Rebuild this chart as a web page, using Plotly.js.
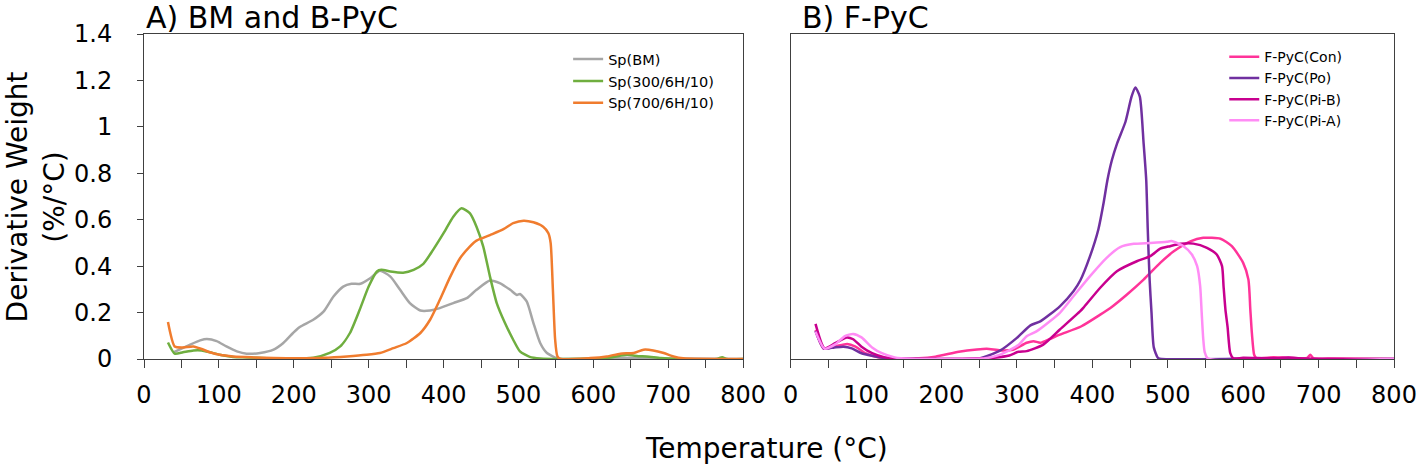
<!DOCTYPE html>
<html>
<head>
<meta charset="utf-8">
<script src="https://cdn.plot.ly/plotly-3.0.1.min.js"></script>
<style>html,body{margin:0;padding:0;background:#fff;}#chart{width:1418px;height:471px;}</style>
</head>
<body>
<div id="chart"></div>
<script>
// ---------- Panel A: BM and B-PyC ----------
const bmT = [40,50,61,75,84,97,110,124,137,155,173,186,199,208,226,240,253,266,277,289,302,315,329,342,355,369,382,395,413,431,444,462,475,489,498,502,511,520,529,538,551,560,600,650,700,800];
const bmY = [0.03,0.045,0.061,0.08,0.086,0.077,0.054,0.033,0.023,0.026,0.04,0.069,0.112,0.138,0.169,0.205,0.269,0.312,0.324,0.324,0.348,0.38,0.355,0.298,0.241,0.209,0.209,0.219,0.241,0.262,0.298,0.338,0.327,0.298,0.276,0.28,0.248,0.155,0.069,0.026,0.004,0,0.002,0.005,0.002,0];

const s300T = [32,41,52,66,77,88,101,119,137,164,200,226,248,262,275,288,300,311,317,329,346,360,373,386,400,413,424,435,444,453,462,471,482,493,502,515,529,560,620,645,660,671,690,710,765,772,778,800];
const s300Y = [0.071,0.023,0.029,0.037,0.037,0.029,0.018,0.009,0.007,0.003,0.001,0.005,0.026,0.054,0.112,0.212,0.312,0.377,0.384,0.377,0.372,0.384,0.41,0.47,0.542,0.613,0.649,0.628,0.57,0.484,0.355,0.241,0.155,0.083,0.033,0.009,0.002,0,0.005,0.018,0.012,0.011,0.004,0,0,0.008,0,0];

const s700T = [32,41,52,66,77,88,101,119,146,173,208,240,271,297,315,333,351,369,382,395,409,422,435,444,462,480,493,507,520,533,540,543,546,549,552,556,596,618,636,654,667,680,694,707,720,800];
const s700Y = [0.159,0.054,0.05,0.054,0.043,0.029,0.018,0.011,0.007,0.004,0.003,0.005,0.011,0.018,0.026,0.047,0.069,0.112,0.169,0.255,0.355,0.434,0.484,0.51,0.534,0.559,0.585,0.596,0.589,0.57,0.542,0.499,0.298,0.083,0.011,0,0.004,0.011,0.023,0.026,0.04,0.037,0.026,0.011,0.003,0];

// ---------- Panel B: F-PyC ----------
const conT = [33,44,60,75,86,99,116,140,170,192,223,247,260,278,295,313,322,331,344,357,385,410,424,446,468,490,508,530,547,570,585,600,607,609.5,611.6,614.7,618,640,660,685,689,693,720,800];
const conY = [0.125,0.045,0.055,0.065,0.053,0.025,0.007,0.002,0.003,0.01,0.031,0.041,0.044,0.037,0.04,0.07,0.077,0.07,0.087,0.105,0.14,0.19,0.22,0.278,0.342,0.414,0.464,0.507,0.522,0.518,0.486,0.414,0.342,0.213,0.11,0.017,0.003,0.008,0.005,0.005,0.018,0.004,0.002,0];

const poT = [33,44,58,70,81,94,108,125,150,200,250,278,300,318,331,357,375,384,397,408,415,420,426,433,444,452,457,463,468,471.5,473.5,476,478.5,481.5,487,492,650,660,800];
const poY = [0.12,0.045,0.05,0.053,0.046,0.025,0.014,0.004,0.001,0,0.002,0.037,0.091,0.145,0.162,0.227,0.292,0.338,0.443,0.558,0.673,0.77,0.857,0.93,1.022,1.13,1.17,1.13,0.93,0.77,0.56,0.34,0.2,0.05,0.005,0,0.003,0,0];

const piBT = [33,45,59,74.5,83,94,108,125,150,200,258,269,290,302,313,335,357,384,388,410.5,432.6,459,477,490,503,517,534,552,565,572,574,576.5,579.3,582.9,587,600,640,660,680,800];
const piBY = [0.151,0.046,0.068,0.093,0.085,0.053,0.025,0.007,0.001,0,0.003,0.005,0.015,0.031,0.034,0.062,0.127,0.206,0.22,0.307,0.378,0.421,0.443,0.475,0.486,0.496,0.497,0.479,0.45,0.40,0.314,0.213,0.139,0.025,0.003,0.005,0.003,0.006,0.002,0];

const piAT = [33,45,59,72,83,94,108,121,138,160,220,258,278,302,313,326.5,357,375,397,419,437,455,477,499,505,521,532,539,543,545,547,549,553,800];
const piAY = [0.118,0.045,0.063,0.099,0.108,0.093,0.05,0.025,0.007,0.001,0,0.003,0.019,0.06,0.098,0.12,0.199,0.27,0.357,0.436,0.482,0.496,0.5,0.505,0.508,0.486,0.45,0.40,0.314,0.2,0.09,0.03,0.003,0];

const xTickVals = [0,100,200,300,400,500,600,700,800];
const yTickVals = [0,0.2,0.4,0.6,0.8,1,1.2,1.4];

const FONT = 'DejaVu Sans, Liberation Sans, Arial, sans-serif';
const LW = 2.5;

function tr(x, y, name, color, xa, ya, leg) {
  return {x: x, y: y, name: name, type: 'scatter', mode: 'lines',
    line: {color: color, width: LW, shape: 'spline', smoothing: 0.6},
    xaxis: xa, yaxis: ya, legend: leg};
}

const data = [
  tr(bmT, bmY, 'Sp(BM)', '#A6A6A6', 'x', 'y', 'legend'),
  tr(s300T, s300Y, 'Sp(300/6H/10)', '#6FAE3F', 'x', 'y', 'legend'),
  tr(s700T, s700Y, 'Sp(700/6H/10)', '#F07C2E', 'x', 'y', 'legend'),
  tr(conT, conY, 'F-PyC(Con)', '#FF3399', 'x2', 'y2', 'legend2'),
  tr(poT, poY, 'F-PyC(Po)', '#7030A0', 'x2', 'y2', 'legend2'),
  tr(piBT, piBY, 'F-PyC(Pi-B)', '#C8008F', 'x2', 'y2', 'legend2'),
  tr(piAT, piAY, 'F-PyC(Pi-A)', '#FF8CF5', 'x2', 'y2', 'legend2')
];

const axisLine = '#404040';
function xax(domain, anchor) {
  return {domain: domain, anchor: anchor, range: [0, 800], tickvals: xTickVals,
    ticks: 'outside', ticklen: 8, tickwidth: 1, tickcolor: axisLine,
    minor: {dtick: 50, tick0: 0, ticks: 'outside', ticklen: 8, tickwidth: 1, tickcolor: axisLine, showgrid: false},
    showline: true, linecolor: axisLine, linewidth: 1, mirror: true,
    showgrid: false, zeroline: false,
    tickfont: {family: FONT, size: 24, color: '#000'}, ticklabelstandoff: 6};
}

const layout = {
  width: 1418, height: 471,
  margin: {l: 144, r: 24.3, t: 34, b: 111.7},
  paper_bgcolor: '#fff', plot_bgcolor: '#fff',
  font: {family: FONT, color: '#000'},
  showlegend: true,
  xaxis: xax([0, 0.4793], 'y'),
  xaxis2: xax([0.5173, 1], 'y2'),
  yaxis: {domain: [0, 1], anchor: 'x', range: [0, 1.4], tickvals: yTickVals,
    ticks: 'outside', ticklen: 6, tickcolor: axisLine,
    showline: true, linecolor: axisLine, linewidth: 1, mirror: true,
    showgrid: false, zeroline: false,
    tickfont: {family: FONT, size: 24, color: '#000'}, ticklabelstandoff: 20},
  yaxis2: {domain: [0, 1], anchor: 'x2', range: [0, 1.4],
    showticklabels: false, ticks: '',
    showline: true, linecolor: axisLine, linewidth: 1, mirror: true,
    showgrid: false, zeroline: false},
  legend: {x: 0.3393, y: 0.972, xanchor: 'left', yanchor: 'top',
    bgcolor: 'rgba(0,0,0,0)', font: {family: FONT, size: 14.5, color: '#000'}},
  legend2: {x: 0.8642, y: 0.978, xanchor: 'left', yanchor: 'top',
    bgcolor: 'rgba(0,0,0,0)', font: {family: FONT, size: 14, color: '#000'}},
  annotations: [
    {text: 'A) BM and B-PyC', xref: 'paper', yref: 'paper', x: 0, y: 1.052,
     xanchor: 'left', yanchor: 'middle', showarrow: false,
     font: {family: FONT, size: 30, color: '#000'}},
    {text: 'B) F-PyC', xref: 'paper', yref: 'paper', x: 0.5245, y: 1.052,
     xanchor: 'left', yanchor: 'middle', showarrow: false,
     font: {family: FONT, size: 30, color: '#000'}},
    {text: 'Temperature (°C)', xref: 'paper', yref: 'paper', x: 0.4977, y: -0.2757,
     xanchor: 'center', yanchor: 'middle', showarrow: false,
     font: {family: FONT, size: 28, color: '#000'}},
    {text: 'Derivative Weight<br>(%/°C)', xref: 'paper', yref: 'paper', x: -0.0865, y: 0.5,
     xanchor: 'center', yanchor: 'middle', showarrow: false, textangle: -90,
     font: {family: FONT, size: 28, color: '#000'}}
  ]
};

Plotly.newPlot('chart', data, layout, {displayModeBar: false, responsive: false});
</script>
</body>
</html>
